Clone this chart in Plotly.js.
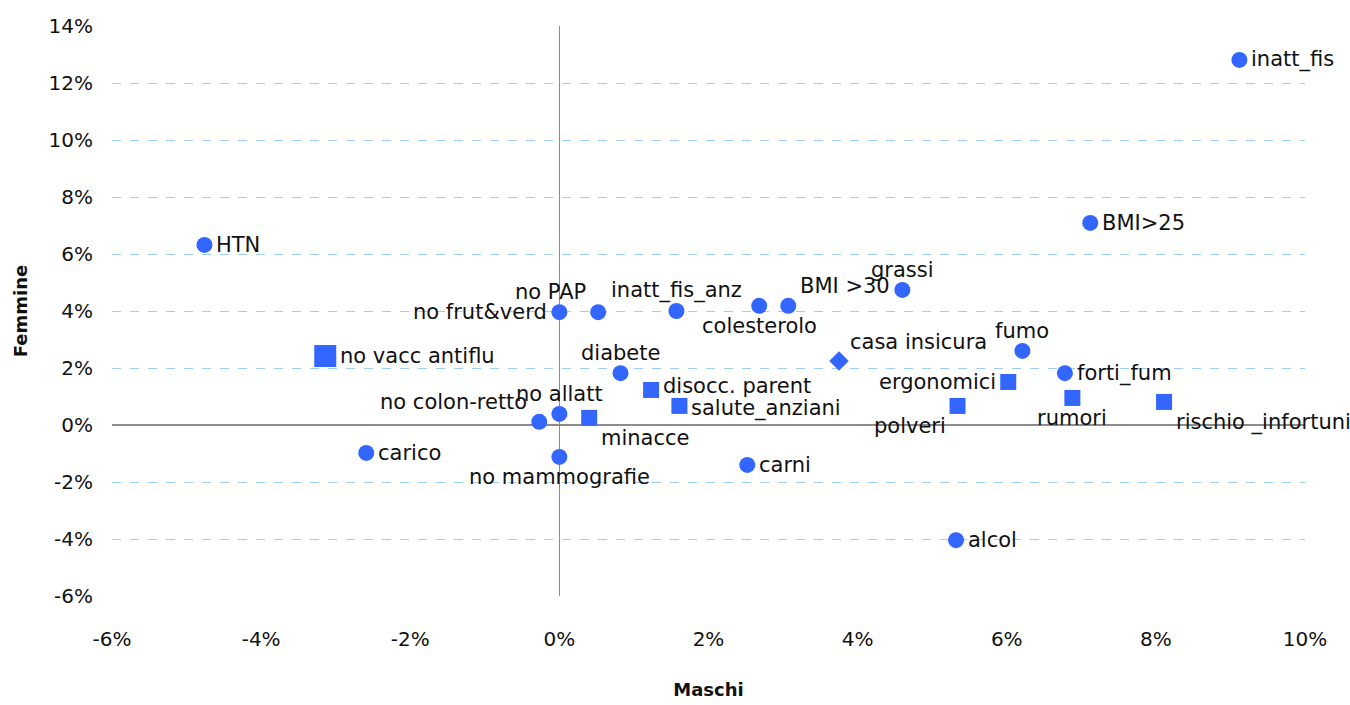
<!DOCTYPE html>
<html>
<head>
<meta charset="utf-8">
<script src="https://cdn.plot.ly/plotly-3.0.1.min.js"></script>
<style>html,body{margin:0;padding:0;background:#fff;}#chart{width:1350px;height:705px;}</style>
</head>
<body>
<div id="chart"></div>
<script>
// Circles (indicatori)
const circleLabels = ["inatt_fis","BMI>25","HTN","grassi","no frut&verd","no PAP","inatt_fis_anz","colesterolo","BMI >30","fumo","forti_fum","alcol","carni","no mammografie","carico","no colon-retto","no allatt","diabete"];
const circleX = [9.12, 7.12, -4.76, 4.60, 0.00, 0.52, 1.57, 2.68, 3.07, 6.21, 6.78, 5.32, 2.52, 0.00, -2.59, -0.27, 0.00, 0.82];
const circleY = [12.81, 7.09, 6.32, 4.74, 3.96, 3.96, 4.00, 4.18, 4.18, 2.60, 1.82, -4.04, -1.40, -1.12, -0.98, 0.11, 0.39, 1.82];
const circlePos = ["middle right","middle right","middle right","top center","middle left","top left","top center","bottom center","top right","top center","middle right","middle right","middle right","bottom center","middle right","top left","top center","top center"];

// Squares
const squareLabels = ["ergonomici","polveri","rumori","rischio _infortuni","minacce","disocc. parent","salute_anziani"];
const squareX = [6.02, 5.34, 6.88, 8.11, 0.40, 1.23, 1.61];
const squareY = [1.51, 0.67, 0.95, 0.81, 0.25, 1.23, 0.67];
const squarePos = ["middle left","bottom left","bottom center","bottom right","bottom right","middle right","middle right"];

// Large square
const bigLabels = ["no vacc antiflu"];
const bigX = [-3.14];
const bigY = [2.42];
const bigPos = ["middle right"];

// Diamond
const diamondLabels = ["casa insicura"];
const diamondX = [3.75];
const diamondY = [2.25];
const diamondPos = ["top right"];

const xTicks = [-6,-4,-2,0,2,4,6,8,10];
const yTicks = [-6,-4,-2,0,2,4,6,8,10,12,14];

// small vertical nudges (px, up positive) for labels that crowd each other
const labelNudge = {"disocc. parent": 4, "salute_anziani": -3};

const blue = "#3366FF";
const fam = "DejaVu Sans, Noto Sans, sans-serif";
const lblFont = {family: fam, size: 21, color: "#111"};

const traces = [
  {type:"scatter", mode:"markers", x:circleX, y:circleY, text:circleLabels,
   marker:{symbol:"circle", size:16, color:blue}, hoverinfo:"text", cliponaxis:false},
  {type:"scatter", mode:"markers", x:squareX, y:squareY, text:squareLabels,
   marker:{symbol:"square", size:16, color:blue}, hoverinfo:"text", cliponaxis:false},
  {type:"scatter", mode:"markers", x:bigX, y:bigY, text:bigLabels,
   marker:{symbol:"square", size:22, color:blue}, hoverinfo:"text", cliponaxis:false},
  {type:"scatter", mode:"markers", x:diamondX, y:diamondY, text:diamondLabels,
   marker:{symbol:"diamond", size:15, color:blue}, hoverinfo:"text", cliponaxis:false}
];

function makeLabels(labels, xs, ys, pos, gap) {
  return labels.map((t, i) => {
    const [v, h] = pos[i].split(" ");
    const a = {x: xs[i], y: ys[i], xref:"x", yref:"y", text: t, showarrow:false, font: lblFont,
               borderpad:0, xshift:0, yshift:0};
    if (h === "right") { a.xanchor = "left"; a.xshift = gap; }
    else if (h === "left") { a.xanchor = "right"; a.xshift = -gap; }
    else { a.xanchor = "center"; }
    if (v === "top") { a.yanchor = "bottom"; a.yshift = gap - 4; }
    else if (v === "bottom") { a.yanchor = "top"; a.yshift = -(gap - 4); }
    else { a.yanchor = "middle"; }
    if (labelNudge[t]) a.yshift += labelNudge[t];
    return a;
  });
}

const annotations = [].concat(
  makeLabels(circleLabels, circleX, circleY, circlePos, 11),
  makeLabels(squareLabels, squareX, squareY, squarePos, 11),
  makeLabels(bigLabels, bigX, bigY, bigPos, 14),
  makeLabels(diamondLabels, diamondX, diamondY, diamondPos, 10)
);

const tickFont = {family: fam, size: 20, color: "#111"};

const layout = {
  width:1350, height:705,
  margin:{l:112, r:45, t:26, b:109},
  paper_bgcolor:"#fff", plot_bgcolor:"#fff",
  showlegend:false,
  annotations: annotations,
  xaxis:{
    range:[-6,10], tickvals:xTicks, ticktext:xTicks.map(v=>v+"%"),
    showgrid:false, zeroline:true, zerolinecolor:"#8c8c8c", zerolinewidth:1.2,
    showline:false, ticks:"", tickfont:tickFont, ticklabelstandoff:29,
    title:{text:"<b>Maschi</b>", font:{family:fam, size:18, color:"#111"}, standoff:33}
  },
  yaxis:{
    range:[-6,14], tickvals:yTicks, ticktext:yTicks.map(v=>v+"%"),
    showgrid:true, gridcolor:"#9fcdf5", griddash:"dash", gridwidth:1,
    zeroline:true, zerolinecolor:"#8c8c8c", zerolinewidth:1.2,
    showline:false, ticks:"", tickfont:tickFont, ticklabelstandoff:18,
    title:{text:"<b>Femmine</b>", font:{family:fam, size:18, color:"#111"}, standoff:16}
  }
};

Plotly.newPlot("chart", traces, layout, {displayModeBar:false, staticPlot:true});
</script>
</body>
</html>
